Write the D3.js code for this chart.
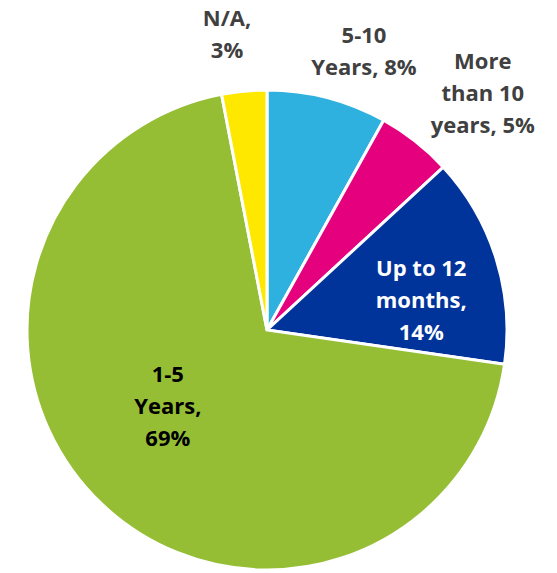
<!DOCTYPE html>
<html>
<head>
<meta charset="utf-8">
<script src="https://cdn.jsdelivr.net/npm/d3@7"></script>
<style>
  html, body { margin: 0; padding: 0; background: #ffffff; }
  svg { display: block; }
  .lbl { font-family: "Open Sans", "Liberation Sans", sans-serif; font-weight: 700; font-size: 22px; }
</style>
</head>
<body>
<svg id="chart" width="557" height="573"></svg>
<script>
// Slices in clockwise order starting at 12 o'clock
const categories = ["5-10 Years", "More than 10 years", "Up to 12 months", "1-5 Years", "N/A"];
const values = [8, 5, 14, 69, 3];
const colors = ["#2fb1e0", "#e5007e", "#00349a", "#95be35", "#ffe800"];
// How many words of "category, value%" go on each line of a label
const wordsPerLine = [[1, 2], [1, 2, 2], [3, 1, 1], [1, 1, 1], [1, 1]];

// Layout
const width = 557, height = 573;
const cx = 267, cy = 330, radius = 240;
const lineGap = 32;
// label block centre, as [angle in degrees clockwise from top, distance from centre]
const labelPolar = [[19.2, 295], [42.4, 320], [79.2, 157], [232.5, 125], [352.3, 298]];
const labelFill = ["#404040", "#404040", "#ffffff", "#000000", "#404040"];

const svg = d3.select("#chart");
const g = svg.append("g").attr("transform", `translate(${cx},${cy})`);

const pie = d3.pie().sort(null).value(d => d.value);
const arc = d3.arc().innerRadius(0).outerRadius(radius);

const data = categories.map((c, i) => ({ category: c, value: values[i], color: colors[i], i }));
const arcs = pie(data);

g.selectAll("path.slice")
  .data(arcs)
  .join("path")
  .attr("class", "slice")
  .attr("d", arc)
  .attr("fill", d => d.data.color)
  .attr("stroke", "#ffffff")
  .attr("stroke-width", 3)
  .attr("stroke-linejoin", "miter");

function labelLines(d) {
  const words = `${d.category}, ${d.value}%`.split(" ");
  const lines = [];
  let k = 0;
  wordsPerLine[d.i].forEach(n => {
    lines.push(words.slice(k, k + n).join(" "));
    k += n;
  });
  return lines;
}

const labels = g.selectAll("text.lbl")
  .data(arcs)
  .join("text")
  .attr("class", "lbl")
  .attr("text-anchor", "middle")
  .attr("fill", d => labelFill[d.data.i])
  .attr("transform", d => {
    const [deg, r] = labelPolar[d.data.i];
    const a = deg * Math.PI / 180;
    return `translate(${r * Math.sin(a)},${-r * Math.cos(a)})`;
  });

labels.each(function(d) {
  const lines = labelLines(d.data);
  const first = -((lines.length - 1) * lineGap) / 2 + 7.5;
  d3.select(this).selectAll("tspan")
    .data(lines)
    .join("tspan")
    .attr("x", 0)
    .attr("y", (t, j) => first + j * lineGap)
    .text(t => t);
});
</script>
</body>
</html>
